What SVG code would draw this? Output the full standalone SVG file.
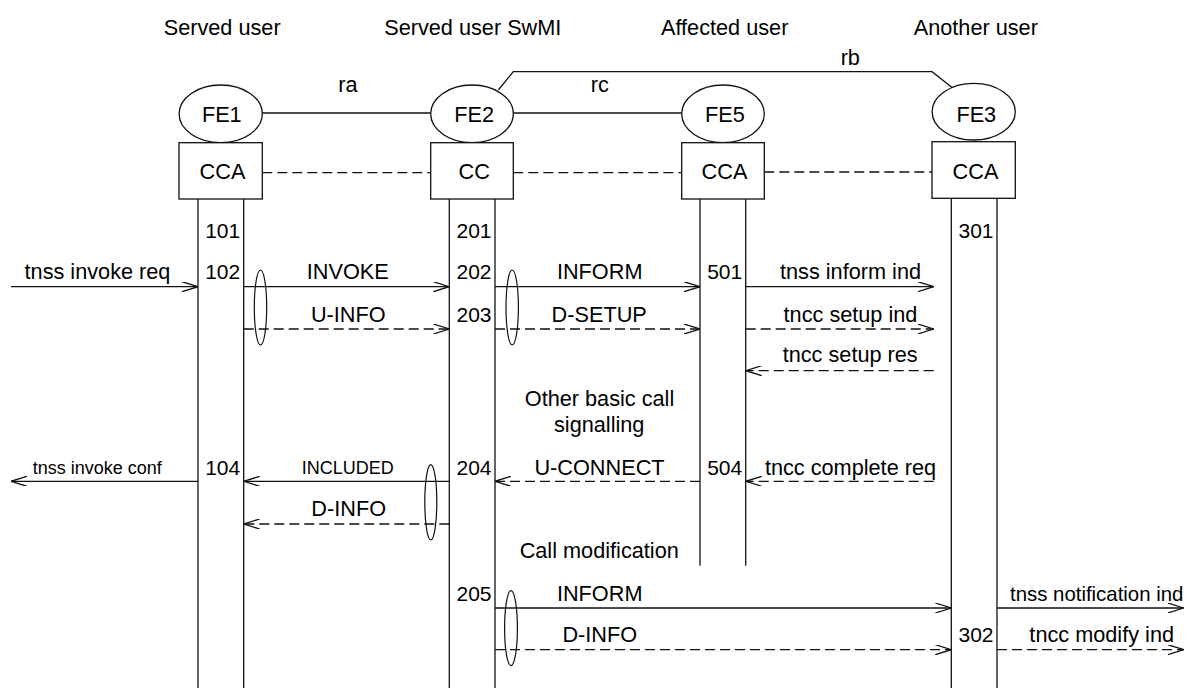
<svg xmlns="http://www.w3.org/2000/svg" width="1197" height="688" viewBox="0 0 1197 688">
<style>
text{font-family:"Liberation Sans",Arial,sans-serif;font-size:21.7px;fill:#000}
.c{text-anchor:middle}
.n{text-anchor:end;font-size:21px}
.s{font-size:18px}
.ln{stroke:#111;stroke-width:1.3;fill:none}
.d{stroke-dasharray:10 5}
.arr{marker-end:url(#ah)}
.box{fill:#fff;stroke:#111;stroke-width:1.3}
.grp{fill:none;stroke:#111;stroke-width:1.2}
</style>
<defs>
<marker id="ah" viewBox="0 0 16 10" refX="16" refY="5" markerWidth="16" markerHeight="10" markerUnits="userSpaceOnUse" orient="auto">
<path d="M0,0 L16,5 L0,10" fill="none" stroke="#111" stroke-width="1.3" stroke-dasharray="none"/>
</marker>
</defs>
<rect width="1197" height="688" fill="#fff"/>
<g id="headers">
<text class="c" x="222.2" y="35">Served user</text>
<text class="c" x="472.8" y="35">Served user SwMI</text>
<text class="c" x="724.7" y="35">Affected user</text>
<text class="c" x="975.8" y="35">Another user</text>
</g>
<g id="relations">
<line class="ln" x1="262.3" y1="113" x2="430.7" y2="113"/>
<line class="ln" x1="513.3" y1="113" x2="681.7" y2="113"/>
<polyline class="ln" points="498.3,90 513.3,71.7 932,71.7 953,88.3"/>
<text class="c" x="348" y="91.7">ra</text>
<text class="c" x="599.7" y="91.7">rc</text>
<text class="c" x="850.3" y="65">rb</text>
<line class="ln d" x1="262.3" y1="172.7" x2="430.7" y2="172.7"/>
<line class="ln d" x1="513.3" y1="172.7" x2="681.7" y2="172.7"/>
<line class="ln d" x1="764.3" y1="172" x2="932" y2="172"/>
</g>
<g id="fe1">
<line class="ln" x1="198" y1="199" x2="198" y2="688"/>
<line class="ln" x1="243.7" y1="199" x2="243.7" y2="688"/>
<ellipse class="box" cx="220.7" cy="113.8" rx="41.6" ry="28.8"/>
<rect class="box" x="179" y="142.7" width="83.3" height="56.3"/>
<text class="c" x="221.8" y="121.7">FE1</text>
<text class="c" x="222.5" y="179">CCA</text>
<text class="n" x="240.2" y="237.7">101</text>
<text class="n" x="240.2" y="279.3">102</text>
<text class="n" x="240.2" y="475">104</text>
</g>
<g id="fe2">
<line class="ln" x1="449.3" y1="199" x2="449.3" y2="688"/>
<line class="ln" x1="495" y1="199" x2="495" y2="688"/>
<ellipse class="box" cx="472" cy="113.8" rx="41.3" ry="28.8"/>
<rect class="box" x="430.7" y="142.7" width="82.6" height="56.3"/>
<text class="c" x="474.2" y="121.7">FE2</text>
<text class="c" x="474.2" y="179">CC</text>
<text class="n" x="491.5" y="237.7">201</text>
<text class="n" x="491.5" y="279.3">202</text>
<text class="n" x="491.5" y="321.7">203</text>
<text class="n" x="491.5" y="475">204</text>
<text class="n" x="491.5" y="600.7">205</text>
</g>
<g id="fe5">
<line class="ln" x1="700" y1="199" x2="700" y2="565.7"/>
<line class="ln" x1="745.7" y1="199" x2="745.7" y2="565.7"/>
<ellipse class="box" cx="723" cy="113.8" rx="41.3" ry="28.8"/>
<rect class="box" x="681.7" y="142.7" width="82.6" height="56.3"/>
<text class="c" x="725" y="121.7">FE5</text>
<text class="c" x="724.5" y="179">CCA</text>
<text class="n" x="742.2" y="279.3">501</text>
<text class="n" x="742.2" y="475">504</text>
</g>
<g id="fe3">
<line class="ln" x1="951.3" y1="198.3" x2="951.3" y2="688"/>
<line class="ln" x1="997" y1="198.3" x2="997" y2="688"/>
<ellipse class="box" cx="973.7" cy="111.7" rx="41.6" ry="28.3"/>
<rect class="box" x="932" y="141.7" width="83.3" height="56.6"/>
<text class="c" x="976.3" y="121.7">FE3</text>
<text class="c" x="975.5" y="179">CCA</text>
<text class="n" x="993.5" y="237.7">301</text>
<text class="n" x="993.5" y="641.7">302</text>
</g>
<g id="connectors">
<line class="ln arr" x1="11" y1="286.7" x2="198" y2="286.7"/>
<line class="ln arr" x1="243.7" y1="286.7" x2="449.3" y2="286.7"/>
<line class="ln arr" x1="495" y1="286.7" x2="700" y2="286.7"/>
<line class="ln arr" x1="745.7" y1="286.7" x2="933.7" y2="286.7"/>
<line class="ln d arr" x1="243.7" y1="329" x2="449.3" y2="329"/>
<line class="ln d arr" x1="495" y1="329" x2="700" y2="329"/>
<line class="ln d arr" x1="745.7" y1="329" x2="933.7" y2="329"/>
<line class="ln d arr" x1="933.7" y1="370.7" x2="745.7" y2="370.7"/>
<line class="ln arr" x1="198" y1="481.3" x2="11" y2="481.3"/>
<line class="ln arr" x1="449.3" y1="481.3" x2="243.7" y2="481.3"/>
<line class="ln d arr" x1="700" y1="481.3" x2="495" y2="481.3"/>
<line class="ln d arr" x1="933.7" y1="481.3" x2="745.7" y2="481.3"/>
<line class="ln d arr" x1="449.3" y1="524" x2="243.7" y2="524"/>
<line class="ln arr" x1="495" y1="608" x2="951.3" y2="608"/>
<line class="ln arr" x1="997" y1="608" x2="1183.7" y2="608"/>
<line class="ln d arr" x1="495" y1="649.7" x2="951.3" y2="649.7"/>
<line class="ln d arr" x1="997" y1="649.7" x2="1183.7" y2="649.7"/>
<ellipse class="grp" cx="260.5" cy="307.5" rx="6.2" ry="37.5"/>
<ellipse class="grp" cx="512.2" cy="307.5" rx="6.2" ry="37.5"/>
<ellipse class="grp" cx="430.8" cy="502.3" rx="6" ry="37.7"/>
<ellipse class="grp" cx="511" cy="628.2" rx="6.4" ry="37.5"/>
</g>
<g id="labels">
<text class="c" x="97.5" y="279.3">tnss invoke req</text>
<text class="c" x="347.8" y="279.3">INVOKE</text>
<text class="c" x="599.7" y="279.3">INFORM</text>
<text class="c" x="850.5" y="279.3">tnss inform ind</text>
<text class="c" x="348.3" y="321.7">U-INFO</text>
<text class="c" x="599.2" y="321.7">D-SETUP</text>
<text class="c" x="850.5" y="321.7">tncc setup ind</text>
<text class="c" x="850.2" y="362.3">tncc setup res</text>
<text class="c" x="599.5" y="405.7">Other basic call</text>
<text class="c" x="599.2" y="432.3">signalling</text>
<text class="c s" x="97.3" y="474">tnss invoke conf</text>
<text class="c s" x="347.8" y="474">INCLUDED</text>
<text class="c" x="599.5" y="475">U-CONNECT</text>
<text class="c" x="850.5" y="475">tncc complete req</text>
<text class="c" x="348.7" y="516.3">D-INFO</text>
<text class="c" x="599.2" y="558.3">Call modification</text>
<text class="c" x="599.7" y="600.7">INFORM</text>
<text class="c" x="1096.7" y="600.7" style="font-size:20.4px">tnss notification ind</text>
<text class="c" x="599.8" y="641.7">D-INFO</text>
<text class="c" x="1101.7" y="641.7">tncc modify ind</text>
</g>
</svg>
